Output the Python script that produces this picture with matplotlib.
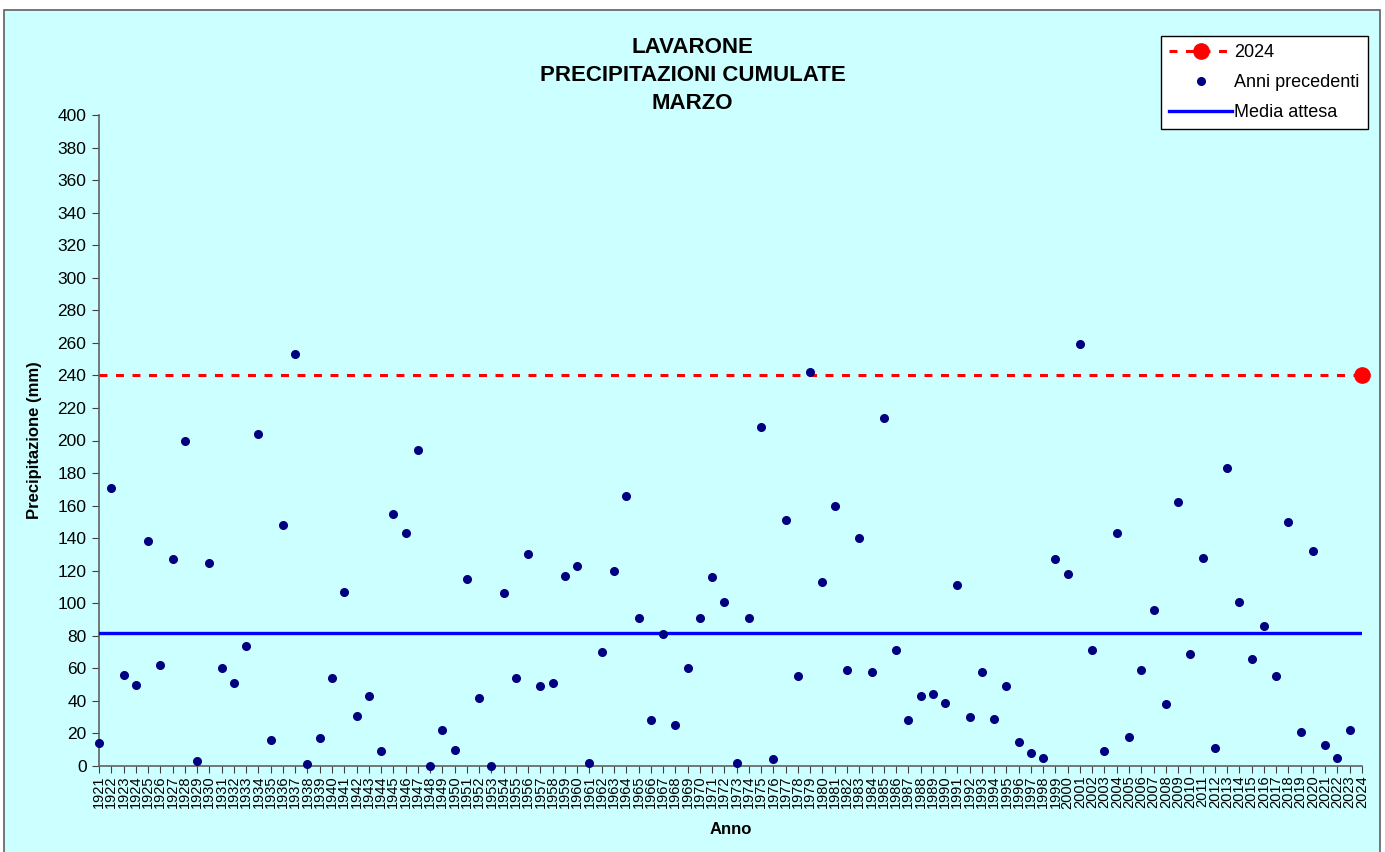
import matplotlib
matplotlib.use("Agg")
import matplotlib.pyplot as plt
from matplotlib.lines import Line2D
from matplotlib.patches import Rectangle

plt.rcParams['font.family'] = ['Liberation Sans', 'DejaVu Sans']

# monthly totals for March (mm), 1921-2023
anni = list(range(1921, 2024))
precip = [14, 171, 56, 50, 138, 62, 127, 200, 3, 125,
          60, 51, 74, 204, 16, 148, 253, 1, 17, 54,
          107, 31, 43, 9, 155, 143, 194, 0, 22, 10,
          115, 42, 0, 106, 54, 130, 49, 51, 117, 123,
          2, 70, 120, 166, 91, 28, 81, 25, 60, 91,
          116, 101, 2, 91, 208, 4, 151, 55, 242, 113,
          160, 59, 140, 58, 214, 71, 28, 43, 44, 39,
          111, 30, 58, 29, 49, 15, 8, 5, 127, 118,
          259, 71, 9, 143, 18, 59, 96, 38, 162, 69,
          128, 11, 183, 101, 66, 86, 55, 150, 21, 132,
          13, 5, 22]
anno_corrente = 2024
precip_corrente = 240
media_attesa = 82

bg = '#CCFFFF'

fig = plt.figure(figsize=(13.85, 8.52), dpi=100)
fig.patch.set_facecolor('white')
# chart area background with border
fig.patches.append(Rectangle((4 / 1385, -0.01), 1376 / 1385, 1 - 10 / 852 + 0.01,
                             transform=fig.transFigure, facecolor=bg,
                             edgecolor='#606060', linewidth=1.2, zorder=-10))

ax = fig.add_axes([99 / 1385, 1 - 766 / 852, (1362 - 99) / 1385, (766 - 115) / 852])
ax.set_facecolor(bg)
ax.patch.set_alpha(0)

ax.plot(anni, precip, 'o', color='#000080', markersize=5.5, linestyle='none',
        clip_on=False, zorder=4)
ax.axhline(media_attesa, xmin=0, xmax=1, color='#0000FF', linewidth=2.4, zorder=3)
ax.axhline(precip_corrente, color='#FF0000', linewidth=2.2,
           dashes=(2.6, 2.8), zorder=3)
ax.plot([anno_corrente], [precip_corrente], 'o', color='#FF0000', markersize=11,
        clip_on=False, zorder=5)

ax.set_xlim(1921, 2024)
ax.set_ylim(0, 400)
ax.set_yticks(range(0, 401, 20))
ax.set_xticks(range(1921, 2025))
ax.set_xticklabels([str(a) for a in range(1921, 2025)], rotation=90, fontsize=10.5)
ax.tick_params(axis='y', labelsize=12.5, length=5, color='#404040', pad=4)
ax.tick_params(axis='x', length=5, color='#404040', pad=2)
for s in ['top', 'right']:
    ax.spines[s].set_visible(False)
for s in ['left', 'bottom']:
    ax.spines[s].set_color('#606060')
    ax.spines[s].set_linewidth(1.2)

ax.set_ylabel('Precipitazione (mm)', fontsize=12, fontweight='bold', labelpad=11)
ax.set_xlabel('Anno', fontsize=12, fontweight='bold', labelpad=10)

fig.text(0.5, 1 - 75.5 / 852, 'LAVARONE\nPRECIPITAZIONI CUMULATE\nMARZO',
         ha='center', va='center', fontsize=16, fontweight='bold',
         linespacing=1.42)

handles = [
    Line2D([], [], color='#FF0000', linewidth=2.2, dashes=(2.6, 2.8),
           marker='o', markersize=11),
    Line2D([], [], color='#000080', marker='o', markersize=5.5, linestyle='none'),
    Line2D([], [], color='#0000FF', linewidth=2.4),
]
leg = fig.legend(handles, ['2024', 'Anni precedenti', 'Media attesa'],
                 loc='upper left', bbox_to_anchor=(1161 / 1385, 1 - 36 / 852),
                 fontsize=13, frameon=True, fancybox=False, framealpha=1,
                 edgecolor='black', handlelength=3.5, handletextpad=0.1,
                 borderpad=0.45, labelspacing=0.72, borderaxespad=0)
leg.get_frame().set_linewidth(1.0)

fig.savefig('out.png', dpi=100, facecolor=fig.get_facecolor())
